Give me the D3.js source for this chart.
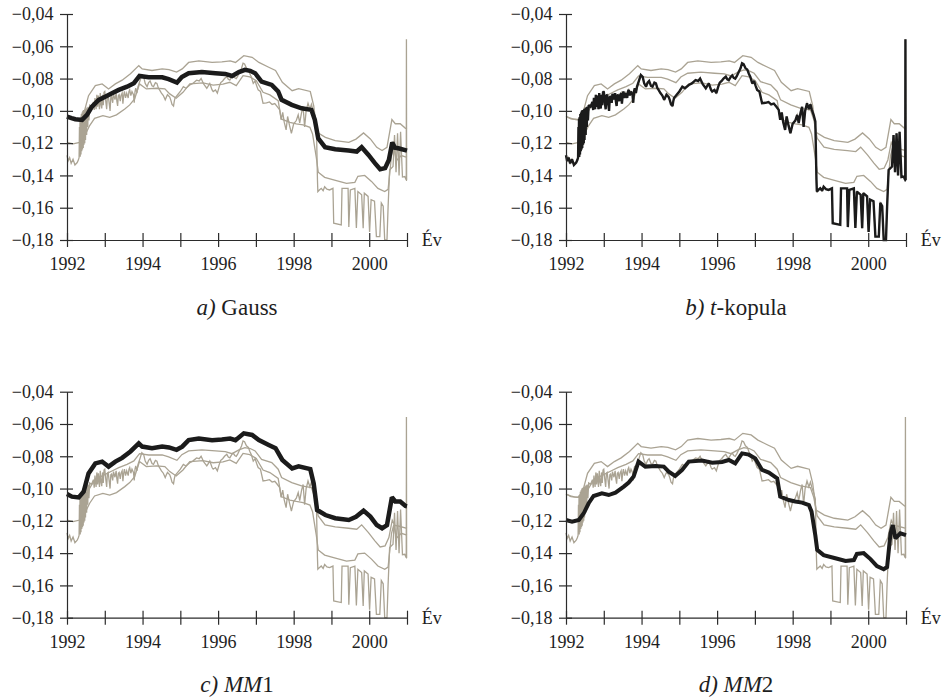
<!DOCTYPE html>
<html>
<head>
<meta charset="utf-8">
<script src="https://cdn.jsdelivr.net/npm/d3@7"></script>
<style>
    body { margin: 0; background: #fff; }
    svg { display: block; }
    .axis path, .axis line { stroke: #2b2b2b; stroke-width: 1.2; }
    .axis text, .unit, .caption {
        font-family: "Liberation Serif", "Times New Roman", Times, "DejaVu Serif", serif;
        fill: #1e1e1e;
    }
    .axis text, .unit { font-size: 18px; }
    .caption { font-size: 23px; }
    .grey-line { fill: none; stroke: #aaa393; stroke-width: 1.3; }
    .main-line { fill: none; stroke: #1b1b1b; stroke-linejoin: miter; stroke-miterlimit: 2; }
</style>
</head>
<body>
<div id="chart"></div>
<script>

// values: [year, value]
const gauss = [
    [1992.00,-0.1035],[1992.12,-0.1045],[1992.22,-0.1052],[1992.40,-0.1056],[1992.53,-0.1025],
    [1992.66,-0.0974],[1992.84,-0.0932],[1993.01,-0.0912],[1993.19,-0.0891],[1993.37,-0.0870],
    [1993.59,-0.0850],[1993.77,-0.0829],[1993.92,-0.0784],[1994.16,-0.0792],[1994.52,-0.0792],
    [1994.69,-0.0804],[1994.91,-0.0825],[1995.04,-0.0790],[1995.22,-0.0767],[1995.57,-0.0760],
    [1995.93,-0.0767],[1996.19,-0.0771],[1996.37,-0.0784],[1996.55,-0.0760],[1996.71,-0.0746],
    [1996.85,-0.0752],[1996.98,-0.0767],[1997.15,-0.0819],[1997.42,-0.0839],[1997.59,-0.0880],
    [1997.68,-0.0932],[1997.95,-0.0963],[1998.21,-0.0984],[1998.47,-0.0994],[1998.56,-0.1056],
    [1998.65,-0.1170],[1998.83,-0.1225],[1999.10,-0.1238],[1999.45,-0.1246],[1999.67,-0.1252],
    [1999.80,-0.1225],[1999.98,-0.1273],[2000.15,-0.1324],[2000.29,-0.1362],[2000.42,-0.1355],
    [2000.52,-0.1304],[2000.61,-0.1196],[2000.68,-0.1228],[2000.77,-0.1232],[2001.00,-0.1246]
];

const tKopula = [
    [1992.00,-0.1275],[1992.03,-0.1310],[1992.07,-0.1290],[1992.11,-0.1325],[1992.16,-0.1300],
    [1992.21,-0.1335],[1992.27,-0.1320],[1992.30,-0.1305],[1992.32,-0.1290],[1992.33,-0.1100],
    [1992.335,-0.1270],[1992.345,-0.1050],[1992.35,-0.1285],[1992.36,-0.1040],[1992.37,-0.1270],
    [1992.38,-0.1020],[1992.39,-0.1250],[1992.40,-0.1010],[1992.41,-0.1240],[1992.42,-0.1000],
    [1992.43,-0.1230],[1992.44,-0.0995],[1992.45,-0.1210],[1992.46,-0.1000],[1992.47,-0.1200],
    [1992.48,-0.0990],[1992.49,-0.1180],[1992.50,-0.0985],[1992.52,-0.1150],[1992.53,-0.0980],
    [1992.55,-0.1100],[1992.56,-0.0975],[1992.58,-0.1060],[1992.60,-0.0965],[1992.65,-0.0974],
    [1992.70,-0.0945],[1992.72,-0.0995],[1992.74,-0.0920],[1992.77,-0.0990],[1992.79,-0.0900],
    [1992.81,-0.0975],[1992.83,-0.0905],[1992.86,-0.0990],[1992.88,-0.0890],[1992.90,-0.0960],
    [1992.92,-0.0985],[1992.94,-0.0900],[1992.96,-0.0965],[1992.98,-0.0885],[1993.00,-0.0880],
    [1993.03,-0.0950],[1993.05,-0.0990],[1993.07,-0.0905],[1993.09,-0.0900],[1993.12,-0.0960],
    [1993.14,-0.1000],[1993.16,-0.0915],[1993.18,-0.0910],[1993.21,-0.0950],[1993.23,-0.0895],
    [1993.27,-0.0930],[1993.30,-0.0890],[1993.32,-0.0940],[1993.34,-0.0970],[1993.36,-0.0905],
    [1993.38,-0.0900],[1993.41,-0.0940],[1993.43,-0.0905],[1993.46,-0.0890],[1993.48,-0.0955],
    [1993.50,-0.0905],[1993.52,-0.0880],[1993.55,-0.0920],[1993.58,-0.0890],[1993.62,-0.0920],
    [1993.64,-0.0880],[1993.66,-0.0870],[1993.69,-0.0905],[1993.72,-0.0880],[1993.76,-0.0900],
    [1993.78,-0.0950],[1993.80,-0.0880],[1993.82,-0.0860],[1993.85,-0.0890],[1993.88,-0.0850],
    [1993.93,-0.0815],[1993.98,-0.0778],[1994.03,-0.0790],[1994.07,-0.0830],[1994.12,-0.0850],
    [1994.16,-0.0825],[1994.20,-0.0815],[1994.25,-0.0845],[1994.29,-0.0850],[1994.34,-0.0825],
    [1994.38,-0.0830],[1994.42,-0.0860],[1994.45,-0.0870],[1994.50,-0.0890],[1994.55,-0.0905],
    [1994.60,-0.0932],[1994.63,-0.0915],[1994.66,-0.0900],[1994.72,-0.0915],[1994.75,-0.0935],
    [1994.78,-0.0960],[1994.82,-0.0970],[1994.84,-0.0940],[1994.86,-0.0920],[1994.93,-0.0900],
    [1995.00,-0.0880],[1995.08,-0.0850],[1995.15,-0.0860],[1995.25,-0.0840],[1995.33,-0.0830],
    [1995.43,-0.0810],[1995.50,-0.0815],[1995.55,-0.0800],[1995.62,-0.0835],[1995.70,-0.0860],
    [1995.74,-0.0845],[1995.78,-0.0830],[1995.84,-0.0870],[1995.87,-0.0880],[1995.93,-0.0870],
    [1995.98,-0.0890],[1996.03,-0.0850],[1996.07,-0.0825],[1996.12,-0.0815],[1996.17,-0.0800],
    [1996.23,-0.0788],[1996.27,-0.0805],[1996.31,-0.0810],[1996.36,-0.0790],[1996.40,-0.0780],
    [1996.44,-0.0795],[1996.48,-0.0800],[1996.52,-0.0785],[1996.55,-0.0770],[1996.62,-0.0736],
    [1996.66,-0.0705],[1996.70,-0.0710],[1996.75,-0.0735],[1996.80,-0.0745],[1996.84,-0.0770],
    [1996.88,-0.0790],[1996.93,-0.0830],[1996.98,-0.0815],[1997.02,-0.0845],[1997.06,-0.0870],
    [1997.12,-0.0880],[1997.19,-0.0953],[1997.28,-0.0950],[1997.36,-0.0945],[1997.43,-0.0960],
    [1997.50,-0.0955],[1997.57,-0.0975],[1997.63,-0.0994],[1997.67,-0.1055],[1997.71,-0.1010],
    [1997.75,-0.1070],[1997.80,-0.1118],[1997.84,-0.1035],[1997.89,-0.1090],[1997.94,-0.1139],
    [1998.00,-0.1080],[1998.07,-0.1060],[1998.12,-0.1025],[1998.16,-0.1075],[1998.21,-0.1010],
    [1998.25,-0.0975],[1998.29,-0.1100],[1998.33,-0.1000],[1998.38,-0.0953],[1998.43,-0.0990],
    [1998.47,-0.0960],[1998.51,-0.0995],[1998.56,-0.1030],[1998.60,-0.1066],[1998.63,-0.1428],
    [1998.64,-0.1500],[1998.68,-0.1490],[1998.73,-0.1480],[1998.78,-0.1495],[1998.82,-0.1470],
    [1998.88,-0.1485],[1998.95,-0.1490],[1999.04,-0.1480],[1999.06,-0.1696],[1999.26,-0.1706],
    [1999.28,-0.1480],[1999.44,-0.1480],[1999.46,-0.1720],[1999.50,-0.1490],[1999.62,-0.1480],
    [1999.66,-0.1725],[1999.70,-0.1500],[1999.80,-0.1520],[1999.84,-0.1727],[1999.87,-0.1510],
    [1999.97,-0.1530],[2000.01,-0.1750],[2000.05,-0.1550],[2000.14,-0.1560],[2000.19,-0.1779],
    [2000.28,-0.1779],[2000.32,-0.1570],[2000.37,-0.1590],[2000.41,-0.1800],[2000.47,-0.1800],
    [2000.50,-0.1593],[2000.54,-0.1366],[2000.63,-0.1345],[2000.67,-0.1150],[2000.71,-0.1380],
    [2000.75,-0.1139],[2000.79,-0.1400],[2000.83,-0.1130],[2000.88,-0.1410],[2000.94,-0.1407],
    [2000.98,-0.1428],[2000.985,-0.0557],[2000.99,-0.1430],[2001.00,-0.1430]
];

const mm1 = [
    [1992.00,-0.1034],[1992.13,-0.1050],[1992.31,-0.1055],[1992.44,-0.1020],[1992.57,-0.0906],
    [1992.75,-0.0844],[1992.93,-0.0833],[1993.10,-0.0864],[1993.28,-0.0833],[1993.46,-0.0810],
    [1993.68,-0.0770],[1993.90,-0.0720],[1993.99,-0.0740],[1994.25,-0.0750],[1994.52,-0.0740],
    [1994.70,-0.0745],[1994.90,-0.0760],[1995.05,-0.0740],[1995.22,-0.0700],[1995.49,-0.0690],
    [1995.84,-0.0700],[1996.10,-0.0696],[1996.32,-0.0690],[1996.46,-0.0700],[1996.68,-0.0658],
    [1996.90,-0.0668],[1997.08,-0.0700],[1997.34,-0.0730],[1997.52,-0.0750],[1997.70,-0.0823],
    [1997.96,-0.0875],[1998.13,-0.0862],[1998.44,-0.0880],[1998.53,-0.0968],[1998.62,-0.1133],
    [1998.84,-0.1164],[1999.10,-0.1184],[1999.46,-0.1195],[1999.65,-0.1175],[1999.85,-0.1137],
    [2000.03,-0.1174],[2000.20,-0.1226],[2000.34,-0.1246],[2000.47,-0.1226],[2000.60,-0.1054],
    [2000.69,-0.1080],[2000.82,-0.1080],[2000.96,-0.1108],[2001.00,-0.1110]
];

const mm2 = [
    [1992.00,-0.1195],[1992.16,-0.1205],[1992.34,-0.1195],[1992.47,-0.1153],[1992.60,-0.1091],
    [1992.73,-0.1046],[1992.95,-0.1030],[1993.13,-0.1040],[1993.31,-0.1025],[1993.53,-0.0988],
    [1993.66,-0.0963],[1993.79,-0.0926],[1993.92,-0.0833],[1994.10,-0.0864],[1994.37,-0.0860],
    [1994.59,-0.0864],[1994.72,-0.0895],[1994.89,-0.0922],[1995.07,-0.0885],[1995.25,-0.0833],
    [1995.60,-0.0827],[1995.87,-0.0840],[1996.13,-0.0835],[1996.31,-0.0823],[1996.48,-0.0844],
    [1996.66,-0.0782],[1996.84,-0.0790],[1997.01,-0.0813],[1997.19,-0.0885],[1997.37,-0.0901],
    [1997.59,-0.0937],[1997.67,-0.1050],[1997.90,-0.1071],[1998.07,-0.1080],[1998.25,-0.1087],
    [1998.43,-0.1102],[1998.50,-0.1143],[1998.60,-0.1290],[1998.65,-0.1380],[1998.82,-0.1412],
    [1999.13,-0.1432],[1999.40,-0.1449],[1999.62,-0.1443],[1999.70,-0.1405],[1999.88,-0.1400],
    [2000.06,-0.1437],[2000.23,-0.1480],[2000.41,-0.1500],[2000.50,-0.1486],[2000.59,-0.1277],
    [2000.65,-0.1226],[2000.72,-0.1308],[2000.85,-0.1277],[2001.00,-0.1288]
];

const allSeries = [gauss, tKopula, mm1, mm2];

const years = d3.range(1992, 2002);
const labelYears = [1992, 1994, 1996, 1998, 2000];
const yTicks = [-0.18, -0.16, -0.14, -0.12, -0.10, -0.08, -0.06, -0.04];
const xUnit = "Év";

// caption pieces: [text, italic]
const captionA = [["a)", true], [" Gauss", false]];
const captionB = [["b) t", true], ["-kopula", false]];
const captionC = [["c) MM", true], ["1", false]];
const captionD = [["d) MM", true], ["2", false]];

const panels = [
    { series: gauss,   width: 4.5, caption: captionA, left: 67,  top: 14 },
    { series: tKopula, width: 2.4, caption: captionB, left: 566, top: 14 },
    { series: mm1,     width: 4.5, caption: captionC, left: 67,  top: 391.7 },
    { series: mm2,     width: 4,   caption: captionD, left: 566, top: 391.7 }
];

const plotW = 340;
const plotH = 226;

const locale = d3.formatLocale({
    decimal: ",", thousands: " ", grouping: [3], currency: ["", ""], minus: "\u2212"
});
const yFormat = locale.format(".2f");

const svg = d3.select("#chart").append("svg")
    .attr("width", 946)
    .attr("height", 699);

const xScale = d3.scaleLinear().domain([1992, 2001]).range([0, plotW]);
const yScale = d3.scaleLinear().domain([-0.18, -0.04]).range([plotH, 0]);

const line = d3.line()
    .x(d => xScale(d[0]))
    .y(d => yScale(d[1]));

panels.forEach(p => {

    let g = svg.append("g")
        .attr("transform", `translate(${p.left},${p.top})`);

    // grey copies of all four estimates
    g.selectAll(".grey-line")
        .data(allSeries)
        .enter().append("path")
        .attr("class", "grey-line")
        .attr("d", line);

    // the panel's own estimate
    g.append("path")
        .datum(p.series)
        .attr("class", "main-line")
        .attr("stroke-width", p.width)
        .attr("d", line);

    // y axis, ticks cross the axis line
    let yAxis = g.append("g")
        .attr("class", "axis y-axis")
        .call(d3.axisLeft(yScale)
            .tickValues(yTicks)
            .tickFormat(yFormat)
            .tickSizeInner(7)
            .tickSizeOuter(0)
            .tickPadding(6.5));
    yAxis.selectAll(".tick line").attr("x1", 6);

    // x axis
    let xAxis = g.append("g")
        .attr("class", "axis x-axis")
        .attr("transform", `translate(0,${plotH})`)
        .call(d3.axisBottom(xScale)
            .tickValues(years)
            .tickFormat(d => labelYears.includes(d) ? d : "")
            .tickSizeInner(7)
            .tickSizeOuter(0)
            .tickPadding(10.5));
    xAxis.selectAll(".tick line").attr("y1", -7);

    g.append("text")
        .attr("class", "unit")
        .attr("x", plotW + 14.7)
        .attr("y", plotH)
        .attr("dy", "0.35em")
        .text(xUnit);

    let cap = g.append("text")
        .attr("class", "caption")
        .attr("x", plotW / 2)
        .attr("y", 300.5)
        .attr("text-anchor", "middle");

    cap.selectAll("tspan")
        .data(p.caption)
        .enter().append("tspan")
        .style("font-style", d => d[1] ? "italic" : "normal")
        .text(d => d[0]);
});

</script>
</body>
</html>
